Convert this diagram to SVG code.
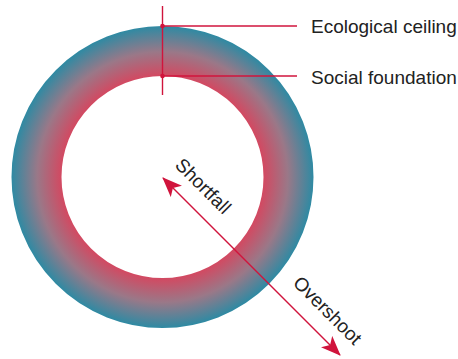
<svg xmlns="http://www.w3.org/2000/svg" width="458" height="359" viewBox="0 0 458 359">
<style>
.lbl{font-family:"Liberation Sans",Arial,sans-serif;font-size:19px;fill:#222}
.ln{stroke:#d0143c;stroke-width:1.4;fill:none}
.dot{fill:#d0143c}
</style>
<defs>
<radialGradient id="ring" gradientUnits="userSpaceOnUse" cx="162.5" cy="177" r="151">
<stop offset="0.66" stop-color="#d6465f"/>
<stop offset="0.83" stop-color="#9a7888"/>
<stop offset="1" stop-color="#2e8aa3"/>
</radialGradient>
<marker id="ah" viewBox="0 0 20 16" refX="19" refY="8" markerWidth="20" markerHeight="16" markerUnits="userSpaceOnUse" orient="auto-start-reverse">
<path d="M0,0 L20,8 L0,16 L5,8 Z" fill="#d0143c"/>
</marker>
</defs>
<g id="doughnut">
<circle cx="162.5" cy="177" r="126" fill="none" stroke="url(#ring)" stroke-width="50"/>
</g>
<g id="connectors">
<line class="ln" x1="162.5" y1="6" x2="162.5" y2="95"/>
<line class="ln" x1="162.5" y1="26" x2="297" y2="26"/>
<line class="ln" x1="162.5" y1="76" x2="297" y2="76"/>
<circle class="dot" cx="162.5" cy="26" r="2.3"/>
<circle class="dot" cx="162.5" cy="76" r="2.3"/>
<line class="ln" x1="163" y1="178" x2="340" y2="355" marker-start="url(#ah)" marker-end="url(#ah)"/>
</g>
<g id="ecological-ceiling">
<text class="lbl" x="311" y="33">Ecological ceiling</text>
</g>
<g id="social-foundation">
<text class="lbl" x="311" y="84">Social foundation</text>
</g>
<g id="shortfall">
<text class="lbl" transform="translate(174,166) rotate(45)">Shortfall</text>
</g>
<g id="overshoot">
<text class="lbl" transform="translate(292,284) rotate(45)">Overshoot</text>
</g>
</svg>
